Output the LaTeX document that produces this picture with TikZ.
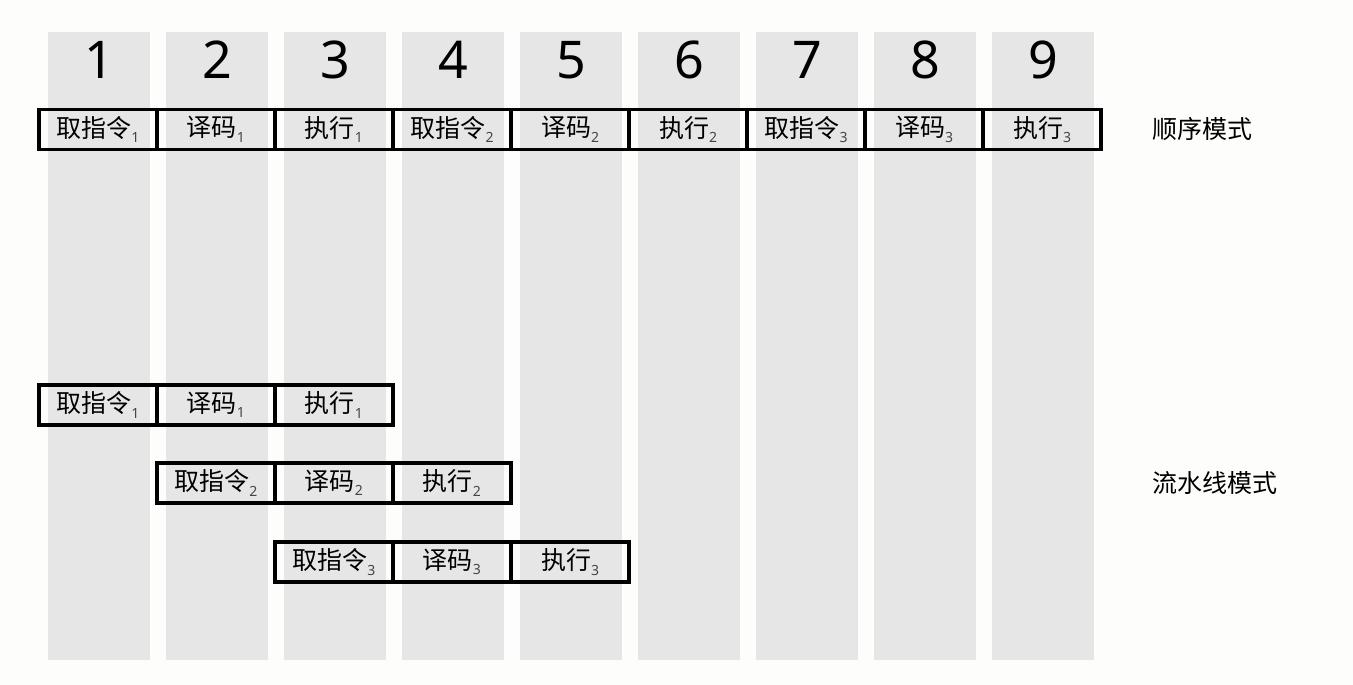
\documentclass[tikz,border=0pt]{standalone}
\usepackage{fontspec}
\setmainfont{Noto Sans CJK SC}
\newfontfamily\digitfont{Noto Sans}
\definecolor{bgc}{HTML}{FDFDFB}
\definecolor{colc}{HTML}{E6E6E6}
\definecolor{subc}{HTML}{444444}
\newcommand{\sbx}[1]{\raisebox{-0.4ex}{\fontsize{14}{14}\selectfont\color{subc}\digitfont #1}}
\begin{document}
\begin{tikzpicture}[x=1pt,y=-1pt,
  colbar/.style={fill=colc,draw=none},
  numtext/.style={font=\digitfont\fontsize{52}{52}\selectfont,inner sep=0pt},
  stage/.style={draw=black,line width=3.2pt,minimum width=118pt,minimum height=40pt,inner sep=0pt,font=\fontsize{25}{25}\selectfont},
  modelabel/.style={anchor=west,inner sep=0pt,font=\fontsize{25}{25}\selectfont}]
\fill[bgc] (0,0) rectangle (1353,685);
\useasboundingbox (0,0) rectangle (1353,685);
\foreach \i in {1,...,9}{
  \fill[colbar] ({48+118*(\i-1)},32) rectangle ({150+118*(\i-1)},660);
  \node[numtext] (n\i) at ({99+118*(\i-1)},60) {\i};
}
% sequential mode
\node[stage] (s1) at (98,129.5) {取指令\sbx{1}};
\node[stage] (s2) at (216,129.5) {译码\sbx{1}};
\node[stage] (s3) at (334,129.5) {执行\sbx{1}};
\node[stage] (s4) at (452,129.5) {取指令\sbx{2}};
\node[stage] (s5) at (570,129.5) {译码\sbx{2}};
\node[stage] (s6) at (688,129.5) {执行\sbx{2}};
\node[stage] (s7) at (806,129.5) {取指令\sbx{3}};
\node[stage] (s8) at (924,129.5) {译码\sbx{3}};
\node[stage] (s9) at (1042,129.5) {执行\sbx{3}};
\node[modelabel] (seq) at (1152,129) {顺序模式};
% pipeline mode
\node[stage] (p11) at (98,405) {取指令\sbx{1}};
\node[stage] (p12) at (216,405) {译码\sbx{1}};
\node[stage] (p13) at (334,405) {执行\sbx{1}};
\node[stage] (p21) at (216,483) {取指令\sbx{2}};
\node[stage] (p22) at (334,483) {译码\sbx{2}};
\node[stage] (p23) at (452,483) {执行\sbx{2}};
\node[stage] (p31) at (334,562) {取指令\sbx{3}};
\node[stage] (p32) at (452,562) {译码\sbx{3}};
\node[stage] (p33) at (570,562) {执行\sbx{3}};
\node[modelabel] (pipe) at (1152,483) {流水线模式};
\end{tikzpicture}
\end{document}
